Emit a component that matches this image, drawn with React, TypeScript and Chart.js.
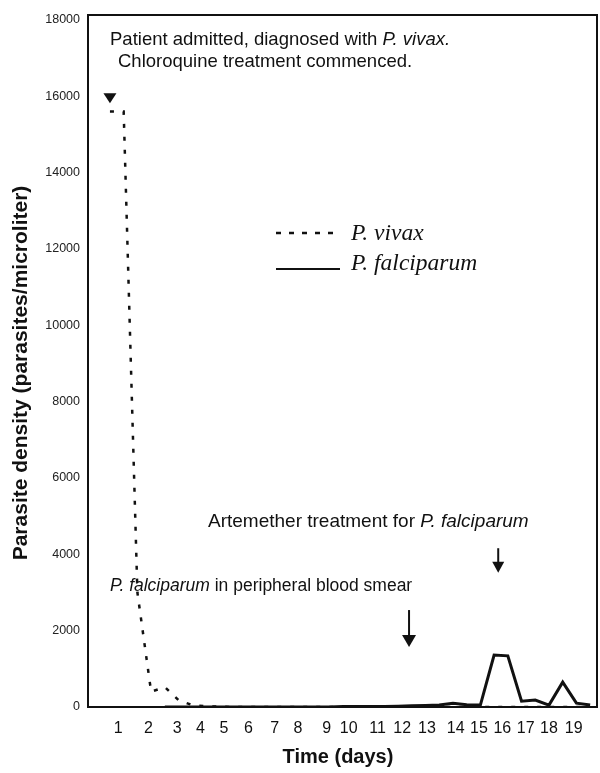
import React, { useEffect, useRef } from "react";
import { Chart, registerables } from "chart.js";

Chart.register(...registerables);

// Blood-smear readings, indexed by sample number along the time axis
const vivaxSample = [
  0, 1, 2, 3, 4, 5, 6, 7, 8, 9, 10, 11, 12, 13, 14, 15, 16, 17,
  18, 19, 20, 21, 22, 23, 24, 25, 26, 27, 28, 29, 30, 31, 32, 33, 34, 35,
];
const vivaxDensity = [
  15600, 15600, 3000, 400, 520, 180, 50, 20, 10, 0, 0, 0, 0, 0, 0, 0, 0, 0,
  0, 0, 0, 0, 0, 0, 0, 0, 0, 0, 0, 0, 0, 0, 0, 0, 0, 0,
];

const falciparumSample = [
  4, 5, 6, 7, 8, 9, 10, 11, 12, 13, 14, 15, 16, 17, 18, 19, 20, 21,
  22, 23, 24, 25, 26, 27, 28, 29, 30, 31, 32, 33, 34, 35,
];
const falciparumDensity = [
  0, 0, 0, 0, 0, 0, 0, 0, 0, 0, 0, 0, 0, 10, 10, 10, 10, 20,
  30, 40, 50, 100, 60, 50, 1360, 1340, 150, 180, 50, 650, 100, 50,
];

// Day labels sit at these sample positions
const dayTickSample = [
  0.6, 2.8, 4.9, 6.6, 8.3, 10.1, 12.0, 13.7, 15.8, 17.4,
  19.5, 21.3, 23.1, 25.2, 26.9, 28.6, 30.3, 32.0, 33.8,
];
const dayTickLabels = [
  "1", "2", "3", "4", "5", "6", "7", "8", "9", "10",
  "11", "12", "13", "14", "15", "16", "17", "18", "19",
];
const densityTicks = [0, 2000, 4000, 6000, 8000, 10000, 12000, 14000, 16000, 18000];

// Event markers: [sample, top density, tip density]
const admissionMark = [0, 16080, 15820];
const smearMark = [21.8, 2540, 1570];
const artemetherMark = [28.3, 4160, 3520];

const SANS = "'Liberation Sans', Arial, sans-serif";
const SERIF = "'Liberation Serif', 'Times New Roman', serif";

type Run = [string, boolean];

function drawRuns(ctx: CanvasRenderingContext2D, x: number, y: number, runs: Run[], size: number, family: string) {
  let cx = x;
  ctx.textBaseline = "alphabetic";
  ctx.textAlign = "left";
  for (const [text, italic] of runs) {
    ctx.font = `${italic ? "italic " : ""}${size}px ${family}`;
    ctx.fillText(text, cx, y);
    cx += ctx.measureText(text).width;
  }
}

function drawArrow(ctx: CanvasRenderingContext2D, x: number, yTop: number, yTip: number, headW: number, headH: number) {
  ctx.beginPath();
  ctx.moveTo(x, yTop);
  ctx.lineTo(x, yTip - headH + 1);
  ctx.lineWidth = 2;
  ctx.stroke();
  ctx.beginPath();
  ctx.moveTo(x - headW / 2, yTip - headH);
  ctx.lineTo(x + headW / 2, yTip - headH);
  ctx.lineTo(x, yTip);
  ctx.closePath();
  ctx.fill();
}

const decorations = {
  id: "decorations",
  beforeDatasetsDraw(chart: any) {
    const { ctx } = chart;
    ctx.save();
    ctx.fillStyle = "#111";
    drawRuns(ctx, 110, 45, [["Patient admitted, diagnosed with ", false], ["P. vivax.", true]], 18.5, SANS);
    drawRuns(ctx, 118, 67, [["Chloroquine treatment commenced.", false]], 18.5, SANS);
    drawRuns(ctx, 208, 527, [["Artemether treatment for ", false], ["P. falciparum", true]], 19, SANS);
    drawRuns(ctx, 110, 591, [["P. falciparum", true], [" in peripheral blood smear", false]], 17.5, SANS);
    ctx.restore();
  },
  afterDraw(chart: any) {
    const { ctx, chartArea: a, scales } = chart;
    const xs = scales.x;
    const ys = scales.y;
    ctx.save();
    ctx.strokeStyle = "#111";
    ctx.fillStyle = "#111";

    // frame
    ctx.lineWidth = 2;
    ctx.strokeRect(a.left, a.top, a.right - a.left, a.bottom - a.top);

    // admission marker (filled triangle)
    {
      const x = xs.getPixelForValue(admissionMark[0]);
      const t = ys.getPixelForValue(admissionMark[1]);
      const b = ys.getPixelForValue(admissionMark[2]);
      ctx.beginPath();
      ctx.moveTo(x - 6.5, t);
      ctx.lineTo(x + 6.5, t);
      ctx.lineTo(x, b);
      ctx.closePath();
      ctx.fill();
    }
    for (const m of [smearMark, artemetherMark]) {
      const x = xs.getPixelForValue(m[0]);
      const big = m === smearMark;
      drawArrow(ctx, x, ys.getPixelForValue(m[1]), ys.getPixelForValue(m[2]), big ? 14 : 12, big ? 12 : 11);
    }

    // legend
    ctx.lineWidth = 2.5;
    ctx.setLineDash([5, 8]);
    ctx.beginPath();
    ctx.moveTo(276, 233);
    ctx.lineTo(340, 233);
    ctx.stroke();
    ctx.setLineDash([]);
    ctx.lineWidth = 2;
    ctx.beginPath();
    ctx.moveTo(276, 269);
    ctx.lineTo(340, 269);
    ctx.stroke();
    drawRuns(ctx, 351, 240, [["P. vivax", true]], 23.5, SERIF);
    drawRuns(ctx, 351, 270, [["P. falciparum", true]], 23.5, SERIF);

    // axis titles
    ctx.font = `bold 20px ${SANS}`;
    ctx.textAlign = "center";
    ctx.textBaseline = "middle";
    ctx.fillText("Time (days)", 338, 757);
    ctx.font = `bold 21px ${SANS}`;
    ctx.translate(21, 373);
    ctx.rotate(-Math.PI / 2);
    ctx.fillText("Parasite density (parasites/microliter)", 0, 0);
    ctx.restore();
  },
};

export default function App() {
  const ref = useRef<HTMLCanvasElement | null>(null);

  useEffect(() => {
    const canvas = ref.current;
    if (!canvas) return;
    const chart = new Chart(canvas, {
      type: "line",
      data: {
        datasets: [
          {
            label: "P. vivax",
            data: vivaxSample.map((x, i) => ({ x, y: vivaxDensity[i] })),
            borderColor: "#111",
            borderWidth: 2.5,
            borderDash: [4, 9],
            pointRadius: 0,
            tension: 0,
            fill: false,
          },
          {
            label: "P. falciparum",
            data: falciparumSample.map((x, i) => ({ x, y: falciparumDensity[i] })),
            borderColor: "#111",
            borderWidth: 3,
            pointRadius: 0,
            tension: 0,
            fill: false,
          },
        ],
      },
      options: {
        animation: false,
        responsive: false,
        devicePixelRatio: 1,
        layout: { padding: { top: 15, right: 3, left: 0, bottom: 0 } },
        plugins: { legend: { display: false }, tooltip: { enabled: false } },
        scales: {
          x: {
            type: "linear",
            min: -1.6,
            max: 35.5,
            grid: { display: false, drawTicks: false },
            border: { display: false },
            afterBuildTicks: (s: any) => {
              s.ticks = dayTickSample.map((v) => ({ value: v }));
            },
            afterFit: (s: any) => {
              s.height = 66;
              s.paddingLeft = 0;
              s.paddingRight = 0;
            },
            ticks: {
              autoSkip: false,
              maxRotation: 0,
              padding: 12,
              color: "#111",
              font: { size: 16, family: SANS },
              callback: (_v: any, i: number) => dayTickLabels[i],
            },
          },
          y: {
            type: "linear",
            min: 0,
            max: 18130,
            grid: { display: false, drawTicks: false },
            border: { display: false },
            afterBuildTicks: (s: any) => {
              s.ticks = densityTicks.map((v) => ({ value: v }));
            },
            afterFit: (s: any) => {
              s.width = 88;
              s.paddingTop = 0;
              s.paddingBottom = 0;
            },
            ticks: {
              padding: 8,
              color: "#222",
              font: { size: 12.5, family: SANS },
              callback: (v: any) => String(v),
            },
          },
        },
      },
      plugins: [decorations],
    });
    return () => chart.destroy();
  }, []);

  return (
    <div style={{ position: "absolute", left: 0, top: 0, width: 600, height: 773, background: "#fff" }}>
      <canvas ref={ref} width={600} height={773} />
    </div>
  );
}
